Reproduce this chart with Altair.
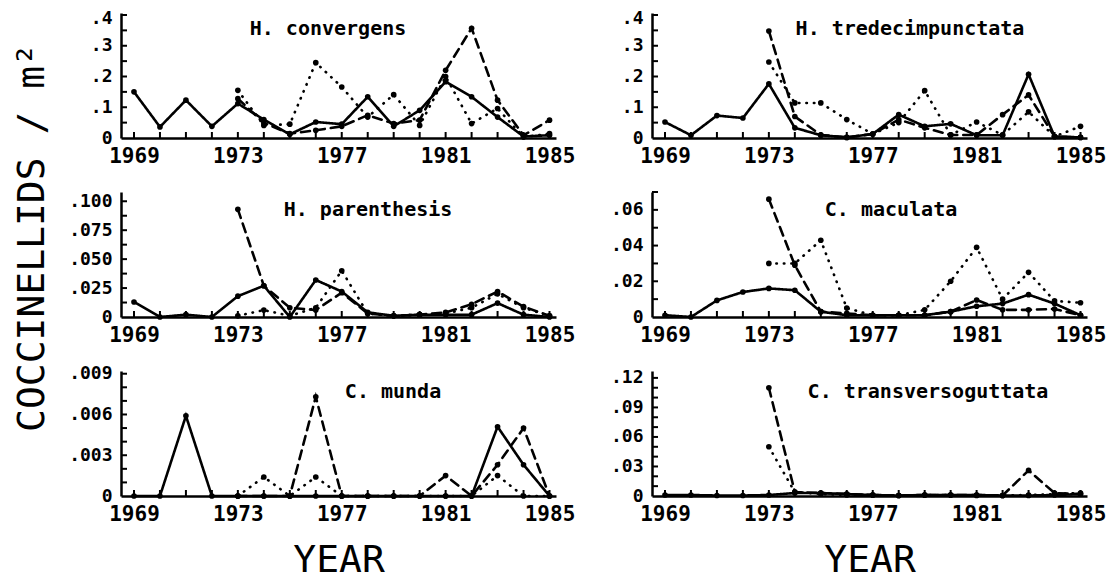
import altair as alt
import pandas as pd

# ---------------- data ----------------
years = list(range(1969, 1986))
years_late = list(range(1973, 1986))

# H. convergens
hc_solid = [0.150, 0.036, 0.123, 0.038, 0.112, 0.060, 0.012, 0.052, 0.045, 0.134, 0.038, 0.090, 0.183, 0.134, 0.068, 0.005, 0.009]
hc_dashed = [0.128, 0.049, 0.014, 0.025, 0.038, 0.074, 0.047, 0.058, 0.220, 0.357, 0.123, 0.009, 0.058]
hc_dotted = [0.155, 0.041, 0.045, 0.245, 0.166, 0.068, 0.141, 0.041, 0.200, 0.047, 0.096, 0.003, 0.014]

# H. tredecimpunctata
ht_solid = [0.052, 0.009, 0.073, 0.065, 0.176, 0.033, 0.009, 0.002, 0.013, 0.076, 0.038, 0.046, 0.009, 0.009, 0.207, 0.005, 0.002]
ht_dashed = [0.348, 0.070, 0.010, 0.002, 0.013, 0.060, 0.033, 0.010, 0.010, 0.076, 0.140, 0.005, 0.002]
ht_dotted = [0.247, 0.114, 0.114, 0.060, 0.013, 0.050, 0.154, 0.010, 0.052, 0.010, 0.085, 0.005, 0.038]

# H. parenthesis
hp_solid = [0.013, 0.000, 0.002, 0.000, 0.018, 0.027, 0.000, 0.032, 0.022, 0.004, 0.001, 0.002, 0.002, 0.002, 0.012, 0.002, 0.000]
hp_dashed = [0.093, 0.027, 0.008, 0.006, 0.021, 0.003, 0.001, 0.002, 0.004, 0.011, 0.022, 0.009, 0.001]
hp_dotted = [0.001, 0.006, 0.001, 0.008, 0.040, 0.003, 0.001, 0.002, 0.003, 0.008, 0.020, 0.008, 0.001]

# C. maculata
cm_solid = [0.001, 0.000, 0.0093, 0.014, 0.016, 0.015, 0.003, 0.001, 0.001, 0.001, 0.001, 0.003, 0.006, 0.0075, 0.0125, 0.0075, 0.001]
cm_dashed = [0.066, 0.029, 0.003, 0.002, 0.001, 0.001, 0.001, 0.003, 0.0095, 0.004, 0.004, 0.0045, 0.001]
cm_dotted = [0.030, 0.030, 0.043, 0.005, 0.001, 0.001, 0.004, 0.020, 0.039, 0.010, 0.025, 0.009, 0.008]

# C. munda
cu_solid = [0, 0, 0.0059, 0, 0, 0, 0, 0, 0, 0, 0, 0, 0, 0, 0.0051, 0.0023, 0]
cu_dashed = [0, 0, 0, 0.0073, 0, 0, 0, 0, 0.0015, 0, 0.0023, 0.0050, 0]
cu_dotted = [0, 0.0014, 0, 0.0014, 0, 0, 0, 0, 0, 0, 0.0015, 0, 0]

# C. transversoguttata
ct_solid = [0.001, 0.001, 0.0005, 0.0005, 0.001, 0.003, 0.003, 0.002, 0.001, 0.0005, 0.001, 0.001, 0.001, 0.0005, 0.0005, 0.001, 0.002]
ct_dashed = [0.110, 0.004, 0.003, 0.002, 0.001, 0.0005, 0.001, 0.001, 0.001, 0.0005, 0.026, 0.003, 0.002]
ct_dotted = [0.050, 0.004, 0.002, 0.001, 0.001, 0.0005, 0.001, 0.001, 0.0005, 0.0005, 0.001, 0.002, 0.003]

x_label_years = [1969, 1973, 1977, 1981, 1985]

ticks_r1 = [0.05, 0.1, 0.15, 0.2, 0.25, 0.3, 0.35, 0.4]
labels_r1 = [0, 0.1, 0.2, 0.3, 0.4]
ticks_hp = [0.0125, 0.025, 0.0375, 0.05, 0.0625, 0.075, 0.0875, 0.1]
labels_hp = [0, 0.025, 0.05, 0.075, 0.1]
ticks_cm = [0.01, 0.02, 0.03, 0.04, 0.05, 0.06, 0.07]
labels_cm = [0, 0.02, 0.04, 0.06]
ticks_cu = [0.001, 0.002, 0.003, 0.004, 0.005, 0.006, 0.007, 0.008, 0.009]
labels_cu = [0, 0.003, 0.006, 0.009]
ticks_ct = [0.01, 0.02, 0.03, 0.04, 0.05, 0.06, 0.07, 0.08, 0.09, 0.10, 0.11, 0.12]
labels_ct = [0, 0.03, 0.06, 0.09, 0.12]

# ---------------- layout / style ----------------
W, H = 435, 125
FONT = "DejaVu Sans Mono"
SERIES = ["solid", "dashed", "dotted"]
DASHES = [[1, 0], [9, 6], [0.5, 7]]


def panel(name, solid, dashed, dotted, ymax, ticks, labels, decimals,
          tx, ty, bottom=False, ytitle=False, top_row=False):
    rows = []
    for yr, v in zip(years, solid):
        rows.append({"year": yr, "value": v, "series": "solid"})
    for yr, v in zip(years_late, dashed):
        rows.append({"year": yr, "value": v, "series": "dashed"})
    for yr, v in zip(years_late, dotted):
        rows.append({"year": yr, "value": v, "series": "dotted"})
    df = pd.DataFrame(rows)

    xaxis = dict(values=x_label_years, format="d", ticks=False, grid=False,
                 domainColor="black", domainWidth=2.5, labelFont=FONT,
                 labelFontWeight="bold", labelFontSize=21, labelColor="black",
                 labelPadding=7, labelOverlap=False, labelFlush=False)
    if bottom:
        xaxis.update(title="YEAR", titleFont=FONT, titleFontSize=38,
                     titleFontWeight="normal", titleColor="black",
                     titleBaseline="top", titleY=45)
    else:
        xaxis.update(title=None)

    expr = ("datum.value == 0 ? '0' : replace(format(datum.value, '.%df'), '0.', '.')"
            % decimals)
    yaxis = dict(values=labels, labelExpr=expr, ticks=False, grid=False,
                 domainColor="black", domainWidth=2.5, labelFont=FONT,
                 labelFontWeight="bold", labelFontSize=18, labelColor="black",
                 labelPadding=9, labelOverlap=False, labelFlush=False)
    if top_row:
        yaxis.update(labelOffset={"condition": {"test": "datum.value >= 0.39", "value": 4},
                                  "value": 0})
    if ytitle:
        yaxis.update(title="COCCINELLIDS  /  m²", titleFont=FONT,
                     titleFontSize=38, titleFontWeight="normal",
                     titleColor="black", titleAngle=270, titleAlign="center",
                     titleBaseline="middle", titleX=-89, titleY=45)
    else:
        yaxis.update(title=None)

    x = alt.X("year:Q", scale=alt.Scale(domain=[1968.5, 1985.25], nice=False, zero=False),
              axis=alt.Axis(**xaxis))
    y = alt.Y("value:Q", scale=alt.Scale(domain=[0, ymax], nice=False, zero=True),
              axis=alt.Axis(**yaxis))

    lines = alt.Chart(df).mark_line(color="black", strokeWidth=2.6, strokeCap="round").encode(
        x=x, y=y,
        strokeDash=alt.StrokeDash("series:N", scale=alt.Scale(domain=SERIES, range=DASHES), legend=None),
        detail="series:N",
    )
    pts = alt.Chart(df).mark_circle(color="black", size=32, opacity=1).encode(x=x, y=y)

    xt = alt.Chart(pd.DataFrame({"year": years})).mark_rule(color="black", strokeWidth=2).encode(
        x=x, y=alt.value(H), y2=alt.value(H - 6))
    yt = alt.Chart(pd.DataFrame({"value": ticks})).mark_rule(color="black", strokeWidth=2).encode(
        y=y, x=alt.value(0), x2=alt.value(6))

    lab = alt.Chart(pd.DataFrame({"t": [name]})).mark_text(
        font=FONT, fontWeight="bold", fontSize=20, color="black",
        align="center", baseline="middle").encode(
        text="t:N", x=alt.value(tx), y=alt.value(ty))

    return alt.layer(lines, pts, xt, yt, lab).properties(width=W, height=H)


p1 = panel("H. convergens", hc_solid, hc_dashed, hc_dotted, 0.4065, ticks_r1, labels_r1, 1, 207, 16, top_row=True)
p2 = panel("H. tredecimpunctata", ht_solid, ht_dashed, ht_dotted, 0.4065, ticks_r1, labels_r1, 1, 258, 16, top_row=True)
p3 = panel("H. parenthesis", hp_solid, hp_dashed, hp_dotted, 0.108, ticks_hp, labels_hp, 3, 247, 18, ytitle=True)
p4 = panel("C. maculata", cm_solid, cm_dashed, cm_dotted, 0.070, ticks_cm, labels_cm, 2, 239, 18)
p5 = panel("C. munda", cu_solid, cu_dashed, cu_dotted, 0.0092, ticks_cu, labels_cu, 3, 272, 21, bottom=True)
p6 = panel("C. transversoguttata", ct_solid, ct_dashed, ct_dotted, 0.127, ticks_ct, labels_ct, 2, 276, 21, bottom=True)

chart = alt.concat(
    p1, p2, p3, p4, p5, p6, columns=2,
    spacing={"row": 54, "column": 96}, bounds="flush",
).properties(padding={"left": 4, "top": 1, "right": 0, "bottom": 0}, background="white"
).configure_view(strokeWidth=0)

chart.save("out.html", embed_options={"renderer": "svg", "actions": False})
